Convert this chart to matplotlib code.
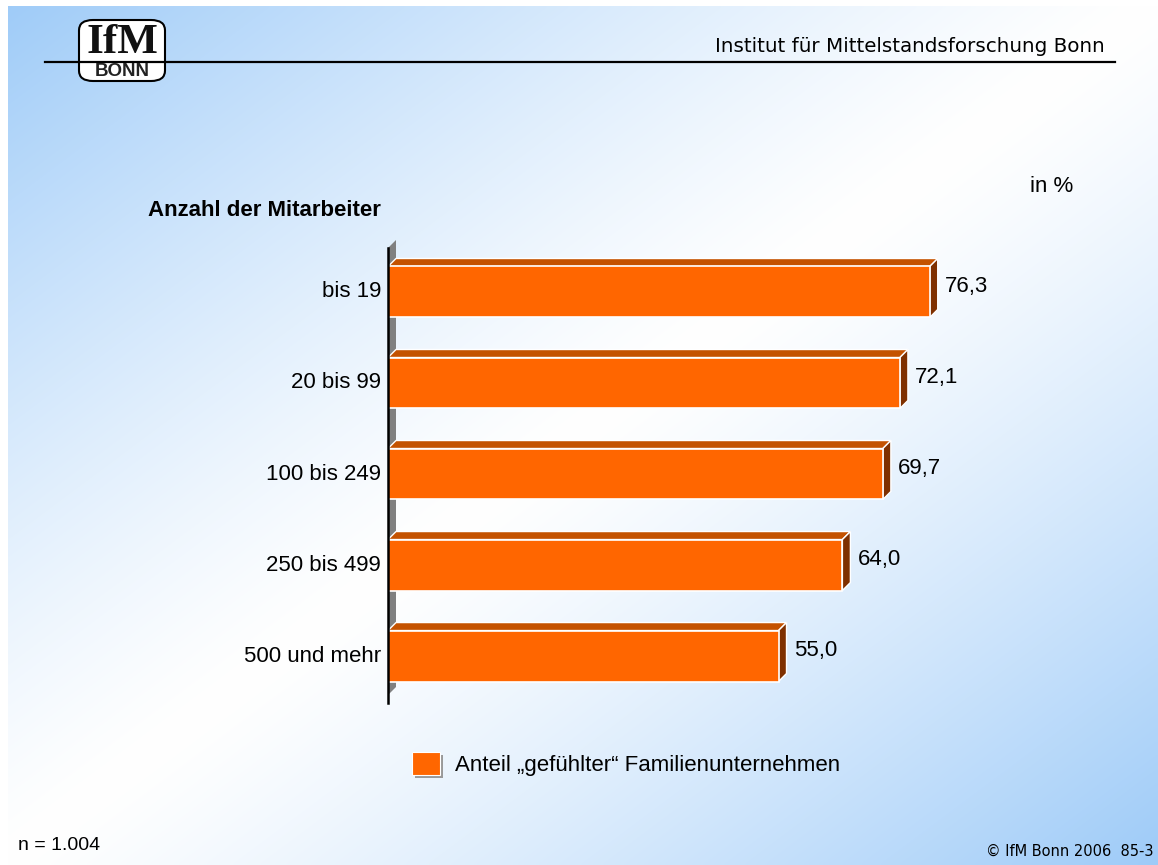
import numpy as np
import matplotlib.pyplot as plt
from matplotlib.patches import Polygon, Rectangle, FancyBboxPatch
from matplotlib.colors import to_rgb

categories = ['bis 19', '20 bis 99', '100 bis 249', '250 bis 499', '500 und mehr']
values = [76.3, 72.1, 69.7, 64.0, 55.0]
value_labels = ['76,3', '72,1', '69,7', '64,0', '55,0']
legend_label = 'Anteil \u201egef\u00fchlter\u201c Familienunternehmen'

W, H = 1158, 865
fig = plt.figure(figsize=(W / 100, H / 100), dpi=100)
fig.patch.set_facecolor('white')

def fx(px):
    return px / W

def fy(py):
    return 1 - py / H

# background gradient: blue at top-left and bottom-right, white along the other diagonal
bg = fig.add_axes([fx(8), 0, 1 - fx(8), 1 - 6 / H], zorder=-10)
xx, yy = np.meshgrid(np.linspace(8, W, 300), np.linspace(6, H, 240))
u = np.abs(xx / W + yy / H - 1)
u = np.clip(u, 0, 1) ** 1.25
blue = np.array(to_rgb('#9ecbf8'))
img = (1 - u[..., None]) * np.array([1.0, 1.0, 1.0]) + u[..., None] * blue
bg.imshow(img, aspect='auto', extent=[0, 1, 0, 1], interpolation='bilinear')
bg.axis('off')

# chart
ax = fig.add_axes([fx(388), fy(703), fx(1098) - fx(388), fy(240) - fy(703)])
ax.set_xlim(0, 100)
y_top, y_bot = -0.571, 4.516
ax.set_ylim(y_bot, y_top)
ax.axis('off')

dx = 8 / 7.1
dy = 8 / 91.0
h = 0.56
ypos = np.arange(len(categories))

# gray wall
ax.add_patch(Polygon([(0, y_top + dy), (dx, y_top), (dx, y_bot - 2 * dy), (0, y_bot - dy)],
                     closed=True, facecolor='#808080', edgecolor='none', zorder=1))
ax.plot([0, 0], [y_top + dy, y_bot], color='black', lw=1.8, zorder=5, clip_on=False)

ax.barh(ypos, values, height=h, color='#ff6600', edgecolor='white', linewidth=1.2, zorder=3)
for y, v, lab, cat in zip(ypos, values, value_labels, categories):
    t = y - h / 2
    b = y + h / 2
    ax.add_patch(Polygon([(0, t), (v, t), (v + dx, t - dy), (dx, t - dy)], closed=True,
                         facecolor='#c45200', edgecolor='white', linewidth=1.0, zorder=2))
    ax.add_patch(Polygon([(v, t), (v + dx, t - dy), (v + dx, b - dy), (v, b)], closed=True,
                         facecolor='#7f3000', edgecolor='white', linewidth=1.0, zorder=2))
    ax.text(v + dx + 1.0, y - 0.06, lab, ha='left', va='center', fontsize=16,
            family='Liberation Sans', color='black')
    ax.text(-1.0, y, cat, ha='right', va='center', fontsize=16,
            family='Liberation Sans', color='black')

# texts
fig.text(fx(148), fy(210), 'Anzahl der Mitarbeiter', fontsize=16, fontweight='bold',
         family='Liberation Sans', ha='left', va='center')
fig.text(fx(1030), fy(187), 'in %', fontsize=16, family='Liberation Sans', ha='left', va='center')
fig.text(fx(1105), fy(46), 'Institut f\u00fcr Mittelstandsforschung Bonn', fontsize=14.3,
         family='DejaVu Sans', ha='right', va='center')
fig.text(fx(18), fy(846), 'n = 1.004', fontsize=14, family='Liberation Sans', ha='left', va='center')
fig.text(fx(1153), fy(851), '\u00a9 IfM Bonn 2006  85-3', fontsize=10.5, family='DejaVu Sans',
         ha='right', va='center')

# header line and logo
fig.add_artist(plt.Line2D([fx(45), fx(1115)], [fy(62), fy(62)], color='black', lw=1.6))
fig.add_artist(FancyBboxPatch((fx(79), fy(81)), fx(165) - fx(79), fy(20) - fy(81),
                              boxstyle='round,pad=0,rounding_size=0.012',
                              transform=fig.transFigure, facecolor='white',
                              edgecolor='black', lw=1.5))
fig.text(fx(122), fy(43), 'IfM', fontsize=31, fontweight='bold', family='Liberation Serif',
         ha='center', va='center', color='#111111')
fig.text(fx(122), fy(71), 'BONN', fontsize=13.5, fontweight='bold', family='Liberation Sans',
         ha='center', va='center', color='#222222')

# legend
fig.add_artist(Rectangle((fx(415), fy(778)), fx(28), 23 / H, transform=fig.transFigure,
                         facecolor='#999999', edgecolor='none'))
fig.add_artist(Rectangle((fx(412), fy(775)), fx(28), 23 / H, transform=fig.transFigure,
                         facecolor='#ff6600', edgecolor='white', lw=0.8))
fig.text(fx(455), fy(766), legend_label, fontsize=16, family='Liberation Sans',
         ha='left', va='center')

fig.savefig('out.png', dpi=100)
